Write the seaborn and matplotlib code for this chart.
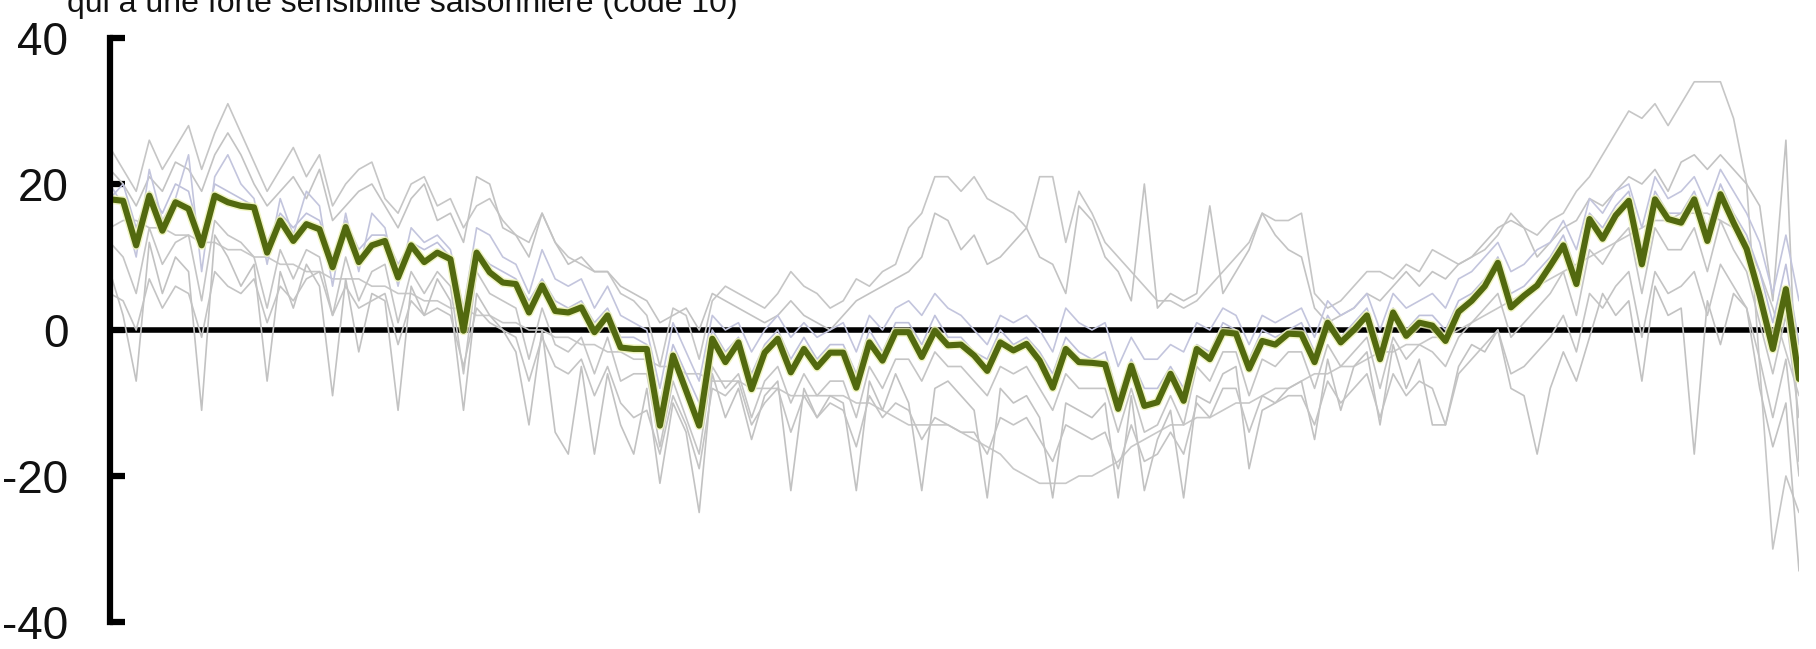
import numpy as np
import pandas as pd
import matplotlib
matplotlib.use("Agg")
import matplotlib.pyplot as plt
from matplotlib import font_manager
import seaborn as sns

# ---------------------------------------------------------------------------
# Data: seasonal deviation (%) of the highlighted series and of the other
# series of the same group, one value per period
# ---------------------------------------------------------------------------
title = "qui a une forte sensibilité saisonnière (code 10)"
y_ticks = [-40, -20, 0, 20, 40]
y_tick_labels = ["-40", "-20", "0", "20", "40"]

highlight = [
    17.9, 17.7, 11.6, 18.4, 13.6, 17.5, 16.6, 11.6, 18.4, 17.5,
    17.0, 16.8, 10.6, 15.0, 12.2, 14.5, 13.8, 8.6, 14.1, 9.3,
    11.6, 12.2, 7.2, 11.6, 9.3, 10.6, 9.7, -0.1, 10.6, 7.9,
    6.5, 6.3, 2.4, 6.1, 2.6, 2.4, 3.1, -0.3, 2.0, -2.4,
    -2.6, -2.6, -13.1, -3.5, -8.3, -13.1, -1.2, -4.4, -1.7, -8.1,
    -3.1, -1.2, -5.8, -2.6, -5.1, -3.1, -3.1, -7.9, -1.7, -4.2,
    -0.3, -0.3, -3.7, -0.1, -2.1, -2.0, -3.5, -5.6, -1.7, -2.8,
    -1.9, -4.2, -7.9, -2.6, -4.4, -4.5, -4.7, -10.8, -4.9, -10.4,
    -9.9, -6.0, -9.7, -2.6, -4.0, -0.3, -0.5, -5.3, -1.5, -2.0,
    -0.5, -0.6, -4.4, 1.0, -1.7, 0.0, 2.0, -4.0, 2.4, -0.8,
    1.0, 0.6, -1.5, 2.5, 4.0, 6.0, 9.2, 3.1, 4.7, 6.1,
    8.8, 11.6, 6.3, 15.2, 12.5, 15.7, 17.7, 9.0, 17.9, 15.2,
    14.7, 17.9, 12.2, 18.6, 14.7, 11.1, 4.7, -2.6, 5.6, -6.7,
]

other_a = [
    25, 22, 19, 26, 22, 25, 28, 22, 27, 31,
    27, 23, 19, 22, 25, 21, 24, 17, 20, 22,
    23, 18, 16, 20, 21, 17, 18, 14, 17, 18,
    15, 13, 12, 16, 12, 10, 9, 8, 8, 5,
    4, 2, -5, 3, 2, -4, 4, 6, 5, 4,
    3, 5, 8, 6, 5, 3, 4, 7, 6, 8,
    9, 14, 16, 21, 21, 19, 21, 18, 17, 16,
    14, 21, 21, 12, 19, 16, 12, 10, 8, 6,
    4, 4, 3, 4, 6, 8, 10, 12, 16, 15,
    15, 16, 5, 3, 4, 6, 8, 8, 7, 9,
    8, 11, 10, 9, 10, 11, 13, 16, 14, 13,
    15, 16, 19, 21, 24, 27, 30, 29, 31, 28,
    31, 34, 34, 34, 29, 20, -5, -30, -20, -25,
]

other_b = [
    22, 20, 17, 21, 19, 23, 22, 19, 24, 27,
    24, 20, 17, 19, 21, 18, 22, 15, 17, 19,
    20, 17, 14, 18, 20, 15, 16, 12, 21, 20,
    14, 13, 10, 16, 12, 9, 10, 8, 8, 6,
    5, 4, 1, 2, 3, 0, 5, 4, 3, 2,
    1, 2, 4, 2, 1, 0, 2, 4, 5, 6,
    7, 8, 10, 16, 15, 11, 13, 9, 10, 12,
    14, 10, 9, 5, 17, 15, 10, 8, 4, 20,
    3, 5, 4, 5, 17, 5, 8, 11, 16, 13,
    11, 10, 3, 1, 2, 3, 5, 4, 6, 8,
    6, 8, 7, 9, 10, 12, 14, 15, 14, 10,
    12, 14, 15, 18, 17, 19, 21, 20, 22, 19,
    23, 24, 22, 24, 22, 20, 17, 4, 26, -18,
]

other_c = [
    14, 15, 15, 14, 14, 13, 13, 12, 12, 11,
    11, 10, 10, 9, 9, 8, 8, 7, 7, 7,
    6, 6, 5, 5, 4, 4, 3, 3, 2, 2,
    1, 1, 0, 0, -1, -1, -2, -2, -3, -3,
    -4, -4, -5, -5, -6, -6, -7, -7, -7, -8,
    -8, -8, -9, -9, -9, -9, -9, -10, -10, -11,
    -12, -13, -13, -13, -13, -14, -15, -16, -17, -19,
    -20, -21, -21, -21, -20, -20, -19, -18, -16, -15,
    -14, -13, -13, -12, -12, -11, -10, -10, -9, -8,
    -8, -7, -6, -6, -5, -5, -4, -3, -3, -2,
    -2, -1, -1, 0, 1, 2, 3, 4, 5, 6,
    7, 8, 9, 10, 11, 12, 13, 14, 15, 15,
    16, 16, 16, 15, 14, 12, 8, 3, -3, -9,
]

other_d = [
    8, 2, -7, 12, 5, 10, 8, -11, 13, 10,
    6, 9, -7, 8, 3, 9, 6, -9, 7, -3,
    5, 4, -11, 6, 2, 7, 4, -11, 5, 2,
    0, -3, -13, 0, -14, -17, -5, -17, -6, -13,
    -17, -8, -21, -10, -14, -25, -6, -12, -8, -15,
    -9, -7, -22, -8, -12, -9, -10, -22, -7, -11,
    -6, -10, -22, -8, -7, -9, -11, -23, -8, -10,
    -9, -12, -23, -10, -11, -12, -10, -23, -9, -22,
    -15, -11, -23, -9, -10, -6, -5, -19, -11, -10,
    -8, -7, -15, -4, -11, -5, -3, -13, -2, -8,
    -4, -13, -13, -5, -2, -3, 0, -8, -9, -17,
    -8, -3, -7, -1, 5, 2, 4, -7, 6, 2,
    3, -17, 4, -2, 5, 3, -8, -16, -10, -33,
]

other_e = [
    18, 20, 14, 19, 16, 20, 19, 12, 20, 19,
    18, 17, 12, 16, 14, 16, 15, 10, 15, 11,
    13, 13, 9, 12, 11, 12, 10, 2, 11, 9,
    8, 7, 4, 7, 4, 3, 4, 1, 3, -1,
    -1, -2, -10, -2, -6, -10, 0, -3, -1, -6,
    -2, 0, -4, -1, -4, -2, -2, -6, 0, -3,
    1, 1, -2, 2, -1, -1, -3, -4, 0, -2,
    -1, -3, -6, -1, -3, -4, -3, -9, -4, -8,
    -8, -5, -8, -2, -3, 1, 0, -4, 0, -1,
    0, 1, -3, 2, -1, 1, 3, -2, 3, 0,
    2, 2, 0, 4, 5, 7, 10, 5, 6, 8,
    10, 13, 8, 16, 14, 17, 19, 11, 19, 16,
    16, 19, 14, 20, 16, 13, 8, 1, 9, -2,
]

other_f = [
    12, 10, 5, 14, 9, 12, 13, 4, 15, 13,
    12, 10, 3, 11, 7, 11, 10, 2, 10, 4,
    8, 9, 1, 8, 5, 8, 6, -6, 8, 5,
    4, 3, -4, 3, -2, -3, -1, -6, -1, -7,
    -6, -6, -16, -7, -12, -17, -5, -8, -6, -12,
    -7, -5, -10, -6, -9, -7, -7, -12, -5, -8,
    -4, -4, -7, -3, -5, -5, -7, -9, -5, -6,
    -5, -8, -11, -6, -8, -8, -8, -14, -8, -14,
    -13, -9, -13, -5, -7, -3, -3, -9, -4, -5,
    -3, -3, -8, -2, -5, -3, -1, -8, -1, -4,
    -2, -3, -5, -1, 1, 3, 5, -1, 1, 3,
    5, 8, 2, 11, 9, 12, 14, 5, 14, 11,
    11, 14, 8, 15, 11, 8, 1, -6, 2, -12,
]

other_g = [
    5, 4, 0, 7, 3, 6, 5, -1, 8, 6,
    5, 7, 1, 6, 4, 7, 8, 2, 6, 3,
    4, 5, -2, 4, 2, 3, 2, -5, 3, 1,
    0, -1, -7, -1, -5, -6, -4, -9, -5, -10,
    -12, -11, -17, -9, -13, -19, -8, -9, -7, -13,
    -10, -8, -14, -9, -12, -10, -11, -16, -9, -12,
    -10, -11, -15, -12, -13, -14, -14, -17, -12, -13,
    -12, -15, -18, -13, -14, -15, -14, -19, -13, -18,
    -17, -14, -17, -10, -12, -8, -8, -14, -9, -10,
    -9, -9, -13, -7, -10, -8, -6, -12, -6, -9,
    -7, -8, -13, -6, -4, -2, 0, -6, -5, -3,
    -1, 2, -3, 5, 3, 6, 8, -1, 8, 5,
    6, 8, 2, 9, 6, 3, -4, -12, -4, -20,
]

other_h = [
    20, 17, 10, 22, 15, 18, 24, 8, 21, 24,
    20, 18, 9, 18, 13, 19, 17, 6, 16, 8,
    16, 14, 6, 14, 12, 13, 11, 3, 14, 13,
    10, 9, 5, 11, 7, 6, 7, 3, 6, 2,
    1, 0, -8, 1, -3, -7, 2, 0, 1, -3,
    0, 2, -1, 1, -1, 0, 1, -3, 2, 0,
    3, 4, 2, 5, 3, 2, 0, -2, 2, 1,
    2, 0, -3, 3, 1, 0, 1, -5, -1, -4,
    -4, -2, -3, 1, 0, 3, 2, -2, 2, 1,
    2, 3, -1, 4, 2, 3, 5, 0, 5, 3,
    4, 5, 3, 7, 8, 10, 12, 8, 9, 11,
    12, 15, 11, 18, 16, 19, 20, 14, 21, 18,
    19, 21, 17, 22, 19, 16, 12, 5, 13, 4,
]

others = {
    "a": other_a, "b": other_b, "c": other_c, "d": other_d,
    "e": other_e, "f": other_f, "g": other_g, "h": other_h,
}
line_colors = {
    "a": "#c6c6c6", "b": "#c3c3c3", "c": "#c8c8c8", "d": "#c2c2c2",
    "e": "#bfc1db", "f": "#c5c5c5", "g": "#c4c4c4", "h": "#c3c5dd",
}

# Long-format table for seaborn
period = np.arange(len(highlight))
long_df = pd.concat(
    [pd.DataFrame({"period": period, "value": vals, "series": name})
     for name, vals in others.items()],
    ignore_index=True,
)
main_df = pd.DataFrame({"period": period, "value": highlight})

# ---------------------------------------------------------------------------
# Figure
# ---------------------------------------------------------------------------
sns.set_style("white")
plt.rcParams["font.family"] = ["Liberation Sans", "DejaVu Sans"]

W, H = 1816, 649
fig = plt.figure(figsize=(W / 100, H / 100), dpi=100)
ax = fig.add_axes([110 / W, 1 - 622 / H, (1799 - 110) / W, (622 - 38) / H])

ax.axhline(0, color="black", linewidth=4.0, zorder=1)

sns.lineplot(data=long_df, x="period", y="value", hue="series",
             palette=line_colors, linewidth=1.2, legend=False,
             ax=ax, zorder=2)

# pale glow under the main series
sns.lineplot(data=main_df, x="period", y="value", color="#eef3b5",
             linewidth=6.5, alpha=0.8, ax=ax, zorder=3)
sns.lineplot(data=main_df, x="period", y="value", color="#52690f",
             linewidth=4.4, ax=ax, zorder=4)

ax.set_xlim(0, len(highlight) - 1)
ax.set_ylim(-40, 40)
ax.set_yticks(y_ticks)
ax.set_yticklabels(y_tick_labels)
ax.set_xticks([])
ax.set_xlabel("")
ax.set_ylabel("")

for side in ("top", "right", "bottom"):
    ax.spines[side].set_visible(False)
ax.spines["left"].set_linewidth(4.5)
ax.spines["left"].set_color("black")
ax.spines["left"].set_zorder(5)

ax.tick_params(axis="y", left=True, direction="in", length=11, width=4.5,
               color="black", pad=30, labelsize=33, labelcolor="#111111")

# Heading in a narrow face when one is installed
installed = {f.name for f in font_manager.fontManager.ttflist}
if "Liberation Sans Narrow" in installed:
    title_family, title_size = ["Liberation Sans Narrow", "DejaVu Sans"], 28.5
else:
    title_family, title_size = ["Liberation Sans", "DejaVu Sans"], 23
fig.text(67 / W, 1 - 12 / H, title, fontsize=title_size, family=title_family,
         ha="left", va="baseline", color="#111111")

fig.savefig("out.png", dpi=100)
